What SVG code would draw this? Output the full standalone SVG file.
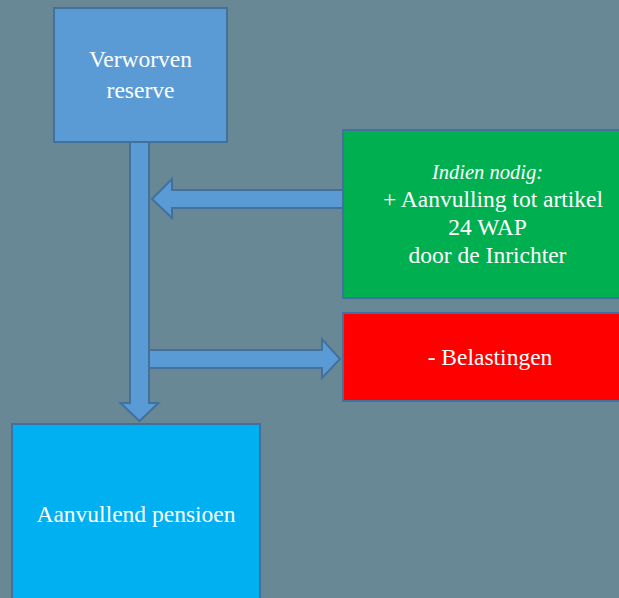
<svg xmlns="http://www.w3.org/2000/svg" width="619" height="598" viewBox="0 0 619 598">
<style>
.box{stroke:#41719C;stroke-width:2}
.arr{fill:#5B9BD5;stroke:#41719C;stroke-width:2;stroke-linejoin:miter}
text{font-family:"Liberation Serif","Times New Roman",serif;fill:#FFFFFF;text-anchor:middle;font-size:23.5px}
.it{font-style:italic;font-size:20.5px}
</style>
<rect x="0" y="0" width="619" height="598" fill="#698895"/>
<g id="connectors">
<polygon class="arr" points="130,142 149,142 149,403 158.5,403 139.5,421 120.5,403 130,403"/>
<polygon class="arr" points="343,190 172,190 172,179 152,199 172,218 172,208 343,208"/>
<polygon class="arr" points="149,350 322,350 322,339 340,359 322,378 322,368 149,368"/>
</g>
<g id="verworven">
<rect class="box" x="54" y="8" width="173" height="134" fill="#5B9BD5"/>
<text x="140.5" y="67">Verworven</text>
<text x="140.5" y="98">reserve</text>
</g>
<g id="aanvulling">
<rect class="box" x="343" y="130" width="300" height="168" fill="#00B050"/>
<text class="it" x="487.5" y="179">Indien nodig:</text>
<text x="493" y="207">+ Aanvulling tot artikel</text>
<text x="487.5" y="235">24 WAP</text>
<text x="487.5" y="263">door de Inrichter</text>
</g>
<g id="belastingen">
<rect class="box" x="343" y="313" width="300" height="88" fill="#FF0000"/>
<text x="490" y="365">- Belastingen</text>
</g>
<g id="pensioen">
<rect class="box" x="12" y="424" width="248" height="190" fill="#00B0F0"/>
<text x="136" y="522">Aanvullend pensioen</text>
</g>
</svg>
